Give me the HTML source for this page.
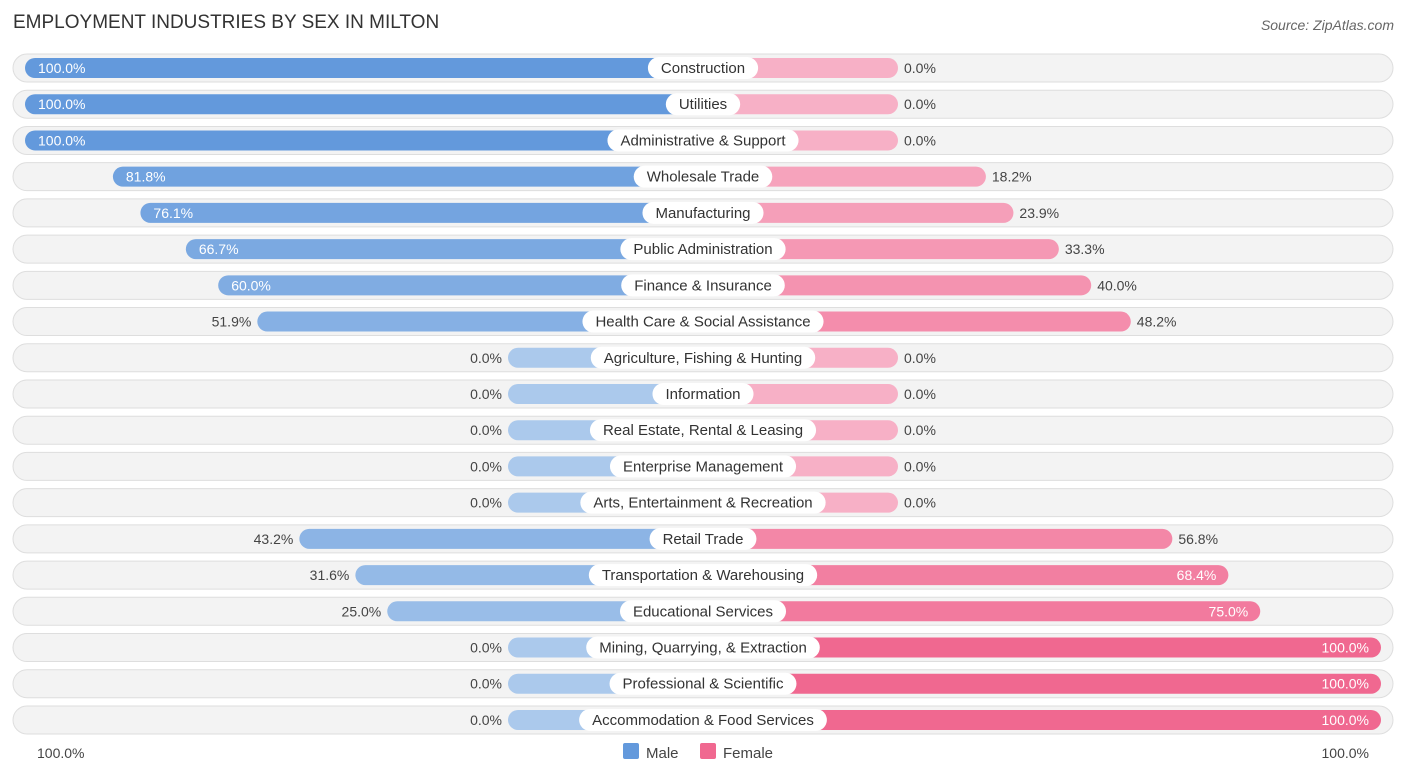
<!DOCTYPE html>
<html><head><meta charset="utf-8"><style>
body{margin:0;background:#fff;font-family:"Liberation Sans",sans-serif;}
svg text{font-family:"Liberation Sans",sans-serif;}
</style></head><body>
<svg id="chart" width="1406" height="776" xmlns="http://www.w3.org/2000/svg">
<text x="13" y="28" font-size="19" fill="#333">EMPLOYMENT INDUSTRIES BY SEX IN MILTON</text>
<text x="1394" y="30" font-size="14" fill="#666" font-style="italic" text-anchor="end">Source: ZipAtlas.com</text>
<g id="rows"></g>
<text x="37" y="758" font-size="14" fill="#444">100.0%</text>
<text x="1369" y="758" font-size="14" fill="#444" text-anchor="end">100.0%</text>
<g>
<rect x="623" y="743" width="16" height="16" rx="2" fill="#6399dc"/>
<text x="646" y="758" font-size="15" fill="#444">Male</text>
<rect x="700" y="743" width="16" height="16" rx="2" fill="#f06890"/>
<text x="723" y="758" font-size="15" fill="#444">Female</text>
</g>
</svg>
<script>
const categories=["Construction","Utilities","Administrative & Support","Wholesale Trade","Manufacturing","Public Administration","Finance & Insurance","Health Care & Social Assistance","Agriculture, Fishing & Hunting","Information","Real Estate, Rental & Leasing","Enterprise Management","Arts, Entertainment & Recreation","Retail Trade","Transportation & Warehousing","Educational Services","Mining, Quarrying, & Extraction","Professional & Scientific","Accommodation & Food Services"];
const maleValues=[100,100,100,81.8,76.1,66.7,60.0,51.9,0,0,0,0,0,43.2,31.6,25.0,0,0,0];
const femaleValues=[0,0,0,18.2,23.9,33.3,40.0,48.2,0,0,0,0,0,56.8,68.4,75.0,100,100,100];
const NS="http://www.w3.org/2000/svg";
const g=document.getElementById('rows');
const cx=703, stub=195, scale=4.83, y0=68, dy=36.22;
function xLen(v){return stub+v*scale;}
function mix(a,b,t){return 'rgb('+a.map((c,i)=>Math.round(c+(b[i]-c)*t)).join(',')+')';}
const m0=[171,201,236],m1=[99,153,220],f0=[247,176,198],f1=[240,104,144];
function mk(tag,attrs){const e=document.createElementNS(NS,tag);for(const k in attrs)e.setAttribute(k,attrs[k]);return e;}
const meas=mk('text',{'font-size':15});g.appendChild(meas);
categories.forEach((c,i)=>{
  const y=y0+i*dy;
  const row=mk('g',{});
  
  
  const bg=mk('rect',{x:13,y:y-14,width:1380,height:28,rx:14,fill:'#f3f3f3',stroke:'#dedede'});
  
  
  row.appendChild(bg);
  const mv=maleValues[i], fv=femaleValues[i];
  const ml=xLen(mv), fl=xLen(fv);
  const mb=mk('rect',{x:cx-ml,y:y-10,width:ml,height:20,rx:10,fill:mix(m0,m1,mv/100)});
  
  
  row.appendChild(mb);
  const fb=mk('rect',{x:cx,y:y-10,width:fl,height:20,rx:10,fill:mix(f0,f1,fv/100)});
  
  
  row.appendChild(fb);
  const mIn=mv>=55;
  const mt=mk('text',{x:mIn?cx-ml+13:cx-ml-6,y:y+5,'font-size':14,fill:mIn?'#fff':'#444','text-anchor':mIn?'start':'end'});
  mt.textContent=mv.toFixed(1)+'%';
  
  
  row.appendChild(mt);
  const fIn=fv>=60;
  const ft=mk('text',{x:fIn?cx+fl-12:cx+fl+6,y:y+5,'font-size':14,fill:fIn?'#fff':'#444','text-anchor':fIn?'end':'start'});
  ft.textContent=fv.toFixed(1)+'%';
  
  
  row.appendChild(ft);
  meas.textContent=c;
  const w=meas.getComputedTextLength()+26;
  const lb=mk('rect',{x:cx-w/2,y:y-11,width:w,height:22,rx:11,fill:'#fff'});
  
  
  row.appendChild(lb);
  const lt=mk('text',{x:cx,y:y+5,'font-size':15,fill:'#333','text-anchor':'middle'});
  lt.textContent=c;
  
  
  row.appendChild(lt);
  g.appendChild(row);
});
meas.remove();
</script>
</body></html>
